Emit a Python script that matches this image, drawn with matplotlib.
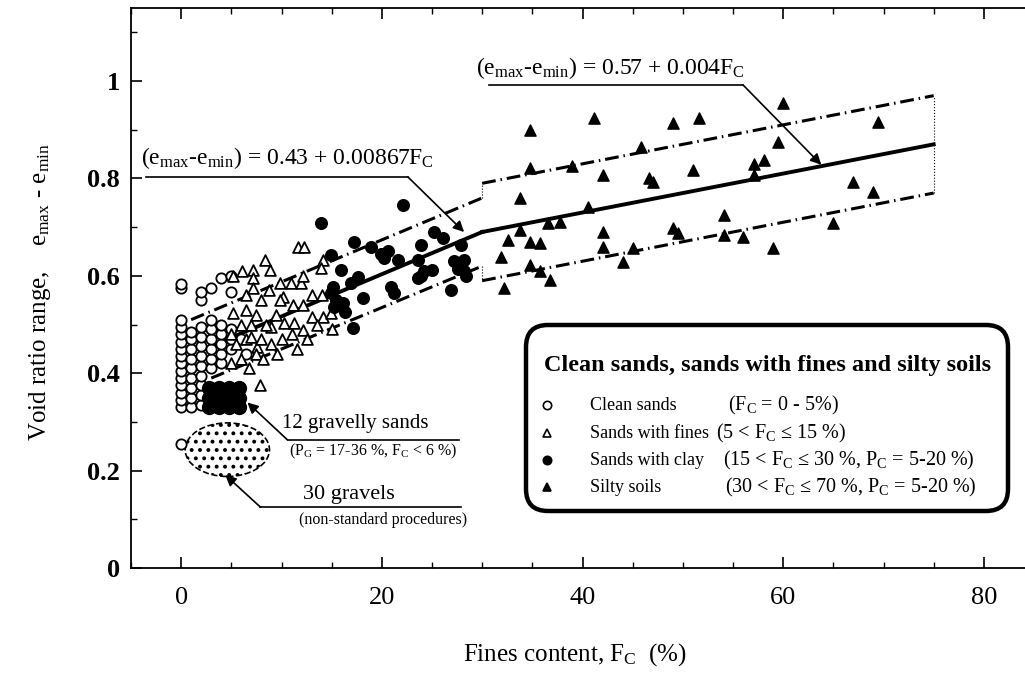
import matplotlib.pyplot as plt
from matplotlib.patches import Ellipse, FancyBboxPatch

plt.rcParams['font.family'] = ['Liberation Serif', 'DejaVu Serif']
plt.rcParams['mathtext.default'] = 'regular'
plt.rcParams['hatch.linewidth'] = 1.6

# ---- data ----
# clean sands (F_C = 0-5 %)
clean_fc = [0]*16 + [1]*9 + [2]*11 + [3]*7 + [4]*6 + [5]*5 + [6, 6.5]
clean_e = [0.255, 0.33, 0.345, 0.36, 0.375, 0.39, 0.405, 0.42, 0.435, 0.45, 0.465, 0.48, 0.495, 0.51, 0.575, 0.583,
           0.33, 0.35, 0.37, 0.39, 0.41, 0.43, 0.45, 0.47, 0.485,
           0.335, 0.355, 0.375, 0.395, 0.415, 0.435, 0.455, 0.475, 0.495, 0.55, 0.567,
           0.41, 0.43, 0.45, 0.47, 0.49, 0.51, 0.575,
           0.42, 0.44, 0.46, 0.48, 0.50, 0.595,
           0.45, 0.47, 0.49, 0.567, 0.60,
           0.47, 0.44]

# sands with fines (5 < F_C <= 15 %)
fines_fc = [5.2, 6.1, 7.2, 8.4, 7.2, 8.9, 11.6, 12.2, 14.1, 13.9, 9.9, 10.9, 11.9, 12.1, 10.1, 5.2, 7.9,
            6.5, 7.5, 8.0, 9.9, 11.1, 12.1, 13.0, 14.1, 7.0, 9.0, 10.2, 11.2, 14.9, 15.0, 12.1, 9.6, 7.6,
            5.0, 5.5, 6.0, 6.5, 7.0, 7.5, 8.0, 8.5, 6.0, 5.0, 6.8, 9.0, 8.2, 10.0, 11.0, 12.5, 13.5, 11.5,
            13.0, 14.0, 8.8, 9.5, 6.5, 7.2]
fines_e = [0.600, 0.610, 0.612, 0.632, 0.596, 0.612, 0.660, 0.660, 0.632, 0.616, 0.585, 0.585, 0.585, 0.600, 0.556, 0.523, 0.376,
           0.530, 0.520, 0.550, 0.550, 0.540, 0.540, 0.515, 0.515, 0.500, 0.495, 0.503, 0.503, 0.523, 0.490, 0.489, 0.440, 0.454,
           0.480, 0.460, 0.500, 0.470, 0.475, 0.440, 0.470, 0.500, 0.430, 0.420, 0.410, 0.460, 0.430, 0.470, 0.480, 0.470, 0.500, 0.450,
           0.560, 0.560, 0.570, 0.520, 0.560, 0.575]

# sands with clay (15 < F_C <= 30 %)
clay_fc = [13.9, 22.1, 14.9, 15.9, 17.2, 18.9, 19.9, 20.6, 20.2, 21.6, 23.6, 23.9, 25.2, 26.1, 27.9,
           27.2, 27.9, 28.2, 27.6, 26.9, 23.6, 24.2, 23.9, 25.0, 20.9, 21.2, 18.1, 17.1,
           14.9, 15.4, 15.2, 16.1, 16.3, 15.1, 16.9, 17.6, 28.2, 28.4]
clay_e = [0.708, 0.745, 0.643, 0.612, 0.669, 0.659, 0.645, 0.650, 0.636, 0.632, 0.632, 0.663, 0.690, 0.678, 0.663,
          0.630, 0.623, 0.610, 0.614, 0.571, 0.595, 0.610, 0.600, 0.612, 0.577, 0.565, 0.554, 0.493,
          0.565, 0.550, 0.535, 0.545, 0.525, 0.577, 0.585, 0.598, 0.632, 0.600]

# silty soils (30 < F_C <= 70 %)
silt_fc = [34.8, 41.1, 49.0, 51.6, 45.8, 34.8, 39.0, 42.0, 46.6, 47.0, 51.0, 57.1, 57.1, 33.8, 40.5,
           36.6, 37.8, 33.8, 32.6, 34.8, 35.8, 42.0, 49.0, 49.5, 54.1, 54.1, 56.0, 31.9, 42.0, 45.0,
           34.8, 35.8, 44.0, 32.2, 36.8, 60.0, 69.5, 59.5, 58.1, 67.0, 69.0, 65.0, 59.0]
silt_e = [0.899, 0.924, 0.914, 0.924, 0.864, 0.821, 0.825, 0.807, 0.800, 0.793, 0.817, 0.830, 0.807, 0.760, 0.741,
          0.708, 0.710, 0.694, 0.674, 0.669, 0.667, 0.690, 0.698, 0.688, 0.725, 0.684, 0.680, 0.639, 0.659, 0.657,
          0.622, 0.610, 0.628, 0.575, 0.591, 0.955, 0.916, 0.875, 0.838, 0.793, 0.772, 0.708, 0.657]

# 12 gravelly sands
gravelly_fc = [2.8, 3.8, 4.8, 5.8, 2.8, 3.8, 4.8, 5.8, 2.8, 3.8, 4.8, 5.8]
gravelly_e = [0.330, 0.330, 0.330, 0.330, 0.350, 0.350, 0.350, 0.350, 0.370, 0.370, 0.370, 0.370]

# fitted lines and bands
fit1_fc, fit1_e = [3, 30], [0.456, 0.690]
fit2_fc, fit2_e = [30, 75], [0.690, 0.870]
up1_fc, up1_e = [1, 30], [0.510, 0.760]
lo1_fc, lo1_e = [3, 30], [0.390, 0.620]
up2_fc, up2_e = [30, 75], [0.790, 0.970]
lo2_fc, lo2_e = [30, 75], [0.590, 0.770]

fig = plt.figure(figsize=(10.25, 6.77), dpi=100)
ax = fig.add_axes([131/1025, 109/677, 903/1025, 560/677])
ax.set_xlim(-5, 85)
ax.set_ylim(0, 1.15)

# lines
ax.plot(fit1_fc, fit1_e, color='black', lw=2.8, zorder=2)
ax.plot(fit2_fc, fit2_e, color='black', lw=2.8, zorder=2)
dash = (4.5, 1.6, 0.5, 1.6)
for fx, fy in [(up1_fc, up1_e), (lo1_fc, lo1_e), (up2_fc, up2_e), (lo2_fc, lo2_e)]:
    ax.plot(fx, fy, color='black', lw=2.2, dashes=dash, zorder=2)
ax.plot([30, 30], [up1_e[1], up2_e[0]], color='black', lw=0.8, ls=':')
ax.plot([30, 30], [lo1_e[1], lo2_e[0]], color='black', lw=0.8, ls=':')
ax.plot([75, 75], [lo2_e[1], up2_e[1]], color='black', lw=0.8, ls=':')

# points
ax.scatter(clean_fc, clean_e, s=55, marker='o', facecolors='white', edgecolors='black', linewidths=1.3, zorder=3)
ax.scatter(fines_fc, fines_e, s=60, marker='^', facecolors='white', edgecolors='black', linewidths=1.3, zorder=3)
ax.scatter(clay_fc, clay_e, s=70, marker='o', color='black', zorder=3)
ax.scatter(silt_fc, silt_e, s=65, marker='^', color='black', zorder=3)
ax.scatter(gravelly_fc, gravelly_e, s=100, marker='o', color='black', zorder=4)

# 30 gravels stippled zone
ax.add_patch(Ellipse((4.6, 0.243), 8.4, 0.11, fill=False, hatch='..', edgecolor='black',
                     linestyle='--', lw=1.2, zorder=2))

# annotations
arrow = dict(arrowstyle='-|>', color='black', lw=1.2, mutation_scale=16, shrinkA=0, shrinkB=0)
ax.text(-4, 0.842, r'(e$_{max}$-e$_{min}$) = 0.43 + 0.00867F$_C$', fontsize=17, va='center')
ax.plot([-3.5, 22.6], [0.803, 0.803], color='black', lw=1.2)
ax.annotate('', xy=(28.2, 0.69), xytext=(22.6, 0.803), arrowprops=arrow)

ax.text(29.4, 1.027, r'(e$_{max}$-e$_{min}$) = 0.57 + 0.004F$_C$', fontsize=17, va='center')
ax.plot([30.7, 56], [0.992, 0.992], color='black', lw=1.2)
ax.annotate('', xy=(63.8, 0.828), xytext=(56, 0.992), arrowprops=arrow)

ax.text(17.4, 0.296, '12 gravelly sands', fontsize=15, ha='center', va='center')
ax.text(19.1, 0.240, r'(P$_G$ = 17-36 %, F$_C$ < 6 %)', fontsize=11.5, ha='center', va='center')
ax.plot([10.6, 27.7], [0.263, 0.263], color='black', lw=1.2)
ax.annotate('', xy=(6.6, 0.34), xytext=(10.6, 0.263), arrowprops=arrow)

ax.text(16.7, 0.150, '30 gravels', fontsize=16, ha='center', va='center')
ax.text(20.1, 0.099, '(non-standard procedures)', fontsize=11.5, ha='center', va='center')
ax.plot([7.9, 27.9], [0.125, 0.125], color='black', lw=1.2)
ax.annotate('', xy=(4.4, 0.191), xytext=(7.9, 0.125), arrowprops=arrow)

# ticks and labels
ax.set_xticks([0, 20, 40, 60, 80])
ax.set_xticks(range(-5, 85, 5), minor=True)
ax.set_yticks([0, 0.2, 0.4, 0.6, 0.8, 1.0])
ax.set_yticklabels(['0', '0.2', '0.4', '0.6', '0.8', '1'])
ax.set_yticks([0.1, 0.3, 0.5, 0.7, 0.9, 1.1], minor=True)
ax.tick_params(which='both', direction='in', top=True, right=False)
ax.tick_params(which='major', length=8, width=1.2)
ax.tick_params(which='minor', length=4, width=1.0)
ax.tick_params(axis='x', labelsize=19, pad=14)
ax.tick_params(axis='y', labelsize=19, pad=8)
for lab in ax.get_yticklabels():
    lab.set_fontweight('bold')
for sp in ax.spines.values():
    sp.set_linewidth(1.3)

fig.text(575/1025, 1 - 655/677, r'Fines content, F$_C$  (%)', fontsize=18, ha='center', va='center')
fig.text(40/1025, 1 - 292/677, r'Void ratio range,    e$_{max}$ - e$_{min}$', fontsize=18,
         rotation=90, ha='center', va='center')

# legend box (pixel units inside)
lg = fig.add_axes([522/1025, (677-517)/677, 493/1025, 196/677])
lg.set_xlim(0, 493)
lg.set_ylim(196, 0)
lg.axis('off')
lg.add_patch(FancyBboxPatch((4, 4), 482, 186, boxstyle='round,pad=0,rounding_size=22',
                            fill=True, facecolor='white', edgecolor='black', lw=3.2))
lg.text(246, 44, 'Clean sands, sands with fines and silty soils', fontsize=17.5,
        fontweight='bold', ha='center', va='center')
names = ['Clean sands', 'Sands with fines', 'Sands with clay', 'Silty soils']
conds = [r'(F$_C$ = 0 - 5%)', r'(5 < F$_C$ ≤ 15 %)', r'(15 < F$_C$ ≤ 30 %, P$_C$ = 5-20 %)',
         r'(30 < F$_C$ ≤ 70 %, P$_C$ = 5-20 %)']
cond_x = [206, 194, 201, 203]
marks = [('o', 'white'), ('^', 'white'), ('o', 'black'), ('^', 'black')]
rows_y = [84, 112, 139, 166]
for nm, cd, cx, (mk, fc), ry in zip(names, conds, cond_x, marks, rows_y):
    lg.plot([25], [ry], marker=mk, markersize=6, markerfacecolor=fc, markeredgecolor='black',
            markeredgewidth=1.2, ls='none')
    lg.text(68, ry, nm, fontsize=13, va='center')
    lg.text(cx, ry, cd, fontsize=14.5, va='center')

plt.savefig('out.png', dpi=100)
